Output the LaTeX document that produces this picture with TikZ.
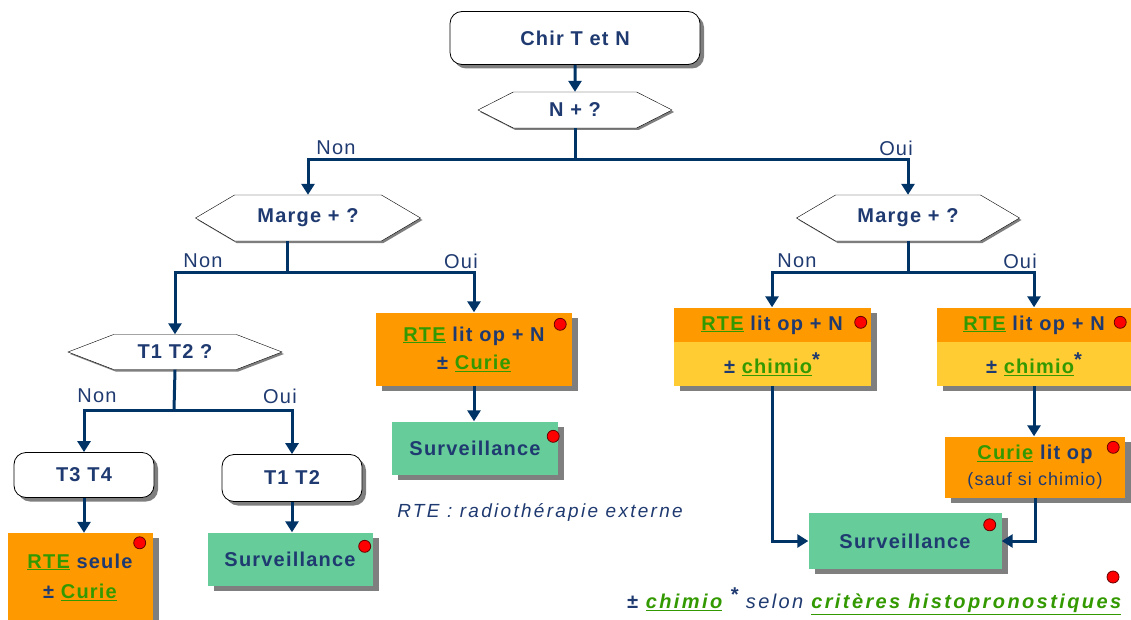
\documentclass[tikz,border=0pt]{standalone}
\usepackage{fontspec}
\setmainfont{Liberation Sans}[LetterSpace=6]
\newfontfamily\widefont{Liberation Sans}[LetterSpace=12]
\usetikzlibrary{arrows.meta,shapes.symbols,shadows,positioning}
\definecolor{navy}{HTML}{1F3A70}
\definecolor{linenavy}{HTML}{003366}
\definecolor{boxorange}{HTML}{FF9900}
\definecolor{boxyellow}{HTML}{FFCC33}
\definecolor{boxgreen}{HTML}{66CC99}
\definecolor{lnkgreen}{HTML}{339900}
\definecolor{shadowgray}{HTML}{7F7F7F}
\newcommand{\lnk}[1]{\textcolor{lnkgreen}{\underline{#1}}}
\newcommand{\etoile}{\raisebox{7pt}{*}}

\begin{document}
\begin{tikzpicture}
[
x=1pt, y=-1pt,
every node/.style={text=navy, inner sep=0pt, font=\fontsize{20}{28}\selectfont\bfseries},
roundbox/.style={draw=black, thick, rounded corners=12pt, fill=white,
  drop shadow={shadow xshift=4pt, shadow yshift=-4pt, fill=shadowgray, opacity=1}},
hexa/.style={signal, signal to=west and east, draw=black, fill=white,
  drop shadow={shadow xshift=2pt, shadow yshift=-2pt, fill=shadowgray, opacity=1}},
flatbox/.style={rectangle, align=center,
  drop shadow={shadow xshift=6pt, shadow yshift=-5pt, fill=shadowgray, opacity=1}},
orangebox/.style={flatbox, fill=boxorange},
yellowbox/.style={flatbox, fill=boxyellow},
greenbox/.style={flatbox, fill=boxgreen},
answer/.style={font=\fontsize{20}{24}\selectfont},
flow/.style={draw=linenavy, line width=3pt, -{Triangle[width=13pt,length=11pt]}},
fork/.style={draw=linenavy, line width=3pt},
dot/.style={circle, fill=red, draw=black!60!red, line width=0.8pt, minimum size=12pt}
]
\clip (0,0) rectangle (1131,620);

% questions
\node[roundbox, minimum width=250pt, minimum height=53pt] (chir) at (575,38) {Chir T et N};
\node[hexa, minimum width=194pt, minimum height=36pt, signal pointer angle=54] (nq) at (575,110) {N + ?};
\node[hexa, minimum width=225pt, minimum height=46pt, signal pointer angle=61] (margeL) at (308,218) {Marge + ?};
\node[hexa, minimum width=223pt, minimum height=46pt, signal pointer angle=61] (margeR) at (908,218) {Marge + ?};
\node[hexa, minimum width=214pt, minimum height=35pt, signal pointer angle=42] (t12q) at (175,352) {T1 T2 ?};
\node[roundbox, minimum width=140pt, minimum height=45pt] (t34) at (84,475) {T3 T4};
\node[roundbox, minimum width=140pt, minimum height=47pt] (t12) at (292,478) {T1 T2};

% treatments
\node[orangebox, minimum width=196pt, minimum height=73pt] (rteL) at (474,349) {\lnk{RTE} lit op + N\\ ± \lnk{Curie}};
\node[greenbox, minimum width=166pt, minimum height=53pt] (survM) at (475,448) {Surveillance};
\node[orangebox, minimum width=145pt, minimum height=88pt, font=\fontsize{20}{30}\selectfont\bfseries] (rteS) at (80,577) {\lnk{RTE} seule\\ ± \lnk{Curie}};
\node[greenbox, minimum width=165pt, minimum height=53pt] (survL) at (290,559) {Surveillance};
\node[orangebox, minimum width=197pt, minimum height=35pt] (chAt) at (772,325) {\lnk{RTE} lit op + N};
\node[yellowbox, minimum width=197pt, minimum height=44pt] (chAb) at (772,364) {± \lnk{chimio}\etoile};
\node[orangebox, minimum width=194pt, minimum height=35pt] (chBt) at (1034,325) {\lnk{RTE} lit op + N};
\node[yellowbox, minimum width=194pt, minimum height=44pt] (chBb) at (1034,364) {± \lnk{chimio}\etoile};
\node[orangebox, minimum width=180pt, minimum height=61pt, font=\fontsize{20}{26}\selectfont\bfseries] (curie) at (1035,467) {\lnk{Curie} lit op\\ {\mdseries\fontsize{18}{26}\selectfont(sauf si chimio)}};
\node[greenbox, minimum width=193pt, minimum height=56pt] (survR) at (905,541) {Surveillance};

% red dots
\node[dot] at ([shift={(-13,10)}]rteS.north east) {};
\node[dot] at ([shift={(-8,14)}]survL.north east) {};
\node[dot] at ([shift={(-12,12)}]rteL.north east) {};
\node[dot] at ([shift={(-5,15)}]survM.north east) {};
\node[dot] at ([shift={(-10,15)}]chAt.north east) {};
\node[dot] at ([shift={(-11,15)}]chBt.north east) {};
\node[dot] at ([shift={(-12,11)}]curie.north east) {};
\node[dot] at ([shift={(-12,12)}]survR.north east) {};
\node[dot] (legdot) at (1113,577) {};

% notes
\node[font=\widefont\fontsize{19}{22}\selectfont\itshape] (note) at (540,512) {RTE : radiothérapie externe};
\node[font=\widefont\fontsize{20}{22}\selectfont\bfseries\itshape] (legend) at (874,601)
  {± \lnk{chimio} \etoile\ {\mdseries selon} \lnk{critères histopronostiques}};

% connectors
\coordinate (nqfork) at (575,160);
\coordinate (mlfork) at (287,272);
\coordinate (mrfork) at (908,272);
\coordinate (tqfork) at (174,410);
\draw[flow] (chir) -- (nq);
\draw[flow] (nq.south) -- (nqfork) -| (margeL.north);
\draw[flow] (nqfork) -| (margeR.north);
\draw[fork] (mlfork |- margeL.south) -- (mlfork);
\draw[flow] (mlfork) -| (t12q.north);
\draw[flow] (mlfork) -| (rteL.north);
\draw[fork] (margeR.south) -- (mrfork);
\draw[flow] (mrfork) -| (chAt.north);
\draw[flow] (mrfork) -| (chBt.north);
\draw[fork] (t12q.south) -- (tqfork);
\draw[flow] (tqfork) -| (t34.north);
\draw[flow] (tqfork) -| (t12.north);
\draw[flow] (t34.south) -- (t34.south |- rteS.north);
\draw[flow] (t12.south) -- (t12.south |- survL.north);
\draw[flow] (rteL.south) -- (rteL.south |- survM.north);
\draw[flow] (chAb.south) |- (survR.west);
\draw[flow] (chBb.south) -- (chBb.south |- curie.north);
\draw[flow] (curie.south) |- (survR.east);

% answers
\node[answer] (non1) at (336,148) {Non};
\node[answer] (oui1) at (896,148) {Oui};
\node[answer] (non2) at (203,261) {Non};
\node[answer] (oui2) at (461,261) {Oui};
\node[answer] (non3) at (797,261) {Non};
\node[answer] (oui3) at (1020,261) {Oui};
\node[answer] (non4) at (97,396) {Non};
\node[answer] (oui4) at (280,396) {Oui};
\end{tikzpicture}
\end{document}
